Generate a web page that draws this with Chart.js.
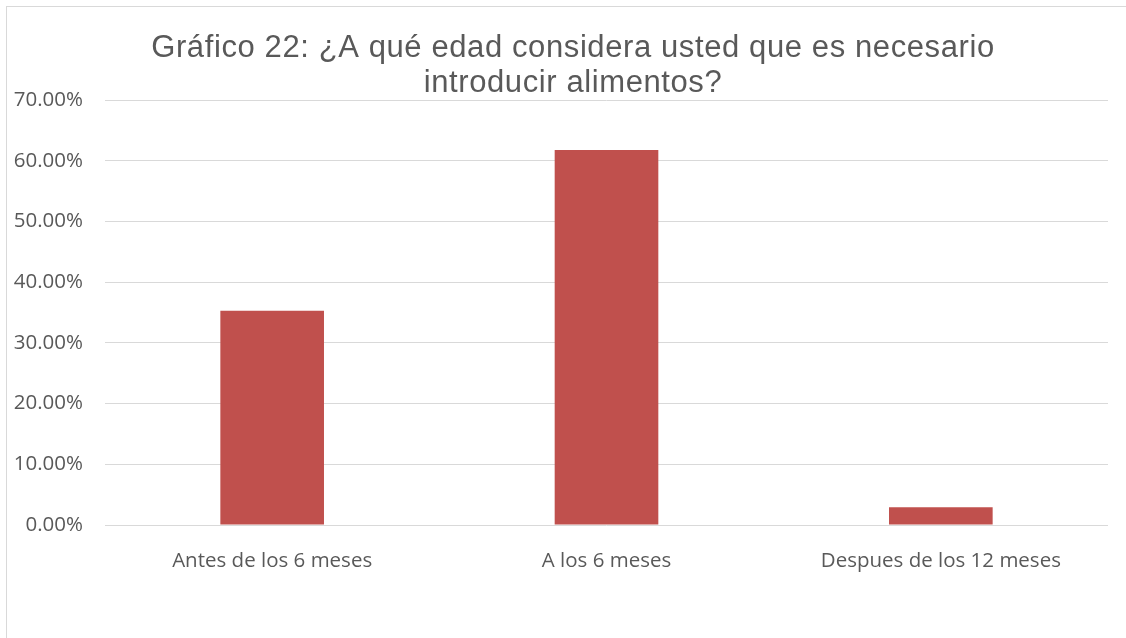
<!DOCTYPE html>
<html>
<head>
<meta charset="utf-8">
<script src="https://cdn.jsdelivr.net/npm/chart.js@4.4.1/dist/chart.umd.min.js"></script>
<style>
  html, body { margin: 0; padding: 0; background: #ffffff; overflow: hidden; }
  #frame { position: absolute; left: 6px; top: 6px; width: 1300px; height: 800px; border: 1px solid #d9d9d9; box-sizing: border-box; }
  #wrap { position: absolute; left: 0; top: 0; width: 1126px; height: 638px; }
</style>
</head>
<body>
<div id="frame"></div>
<div id="wrap"><canvas id="chart" width="1126" height="638"></canvas></div>
<script>
// Survey answers: share of respondents per age option
const categories = ['Antes de los 6 meses', 'A los 6 meses', 'Despues de los 12 meses'];
const shares = [0.3529, 0.6176, 0.0294];
const titleLines = ['Gráfico 22: ¿A qué edad considera usted que es necesario', 'introducir alimentos?'];
const yMax = 0.7;
const yStep = 0.1;

// Two-line chart title drawn over the top of the plot
const titlePlugin = {
  id: 'twoLineTitle',
  afterDraw(chart) {
    const ctx = chart.ctx;
    ctx.save();
    ctx.font = '31px "Liberation Sans", Arial, sans-serif';
    ctx.letterSpacing = '0.6px';
    ctx.fillStyle = '#595959';
    ctx.textAlign = 'center';
    ctx.textBaseline = 'alphabetic';
    const cx = 573;
    ctx.fillText(titleLines[0], cx, 57);
    ctx.fillText(titleLines[1], cx, 92);
    ctx.restore();
  }
};

const tickFont = { family: '"Open Sans", "Noto Sans", sans-serif', size: 20.5 };

new Chart(document.getElementById('chart'), {
  type: 'bar',
  data: {
    labels: categories,
    datasets: [{
      data: shares,
      backgroundColor: '#c0504d',
      borderWidth: 0,
      categoryPercentage: 1.0,
      barPercentage: 0.31
    }]
  },
  options: {
    responsive: false,
    animation: false,
    devicePixelRatio: 1,
    layout: { padding: { left: 0, right: 18, top: 100, bottom: 0 } },
    plugins: {
      legend: { display: false },
      title: { display: false },
      tooltip: { enabled: false }
    },
    scales: {
      x: {
        grid: { display: false },
        border: { display: false },
        ticks: {
          color: '#595959',
          font: tickFont,
          padding: 16
        },
        afterFit(scale) { scale.height = 113; }
      },
      y: {
        min: 0,
        max: yMax,
        grid: { color: '#d9d9d9', lineWidth: 1, drawTicks: false },
        border: { display: false },
        ticks: {
          stepSize: yStep,
          color: '#595959',
          font: tickFont,
          padding: 22,
          callback: (v) => (v * 100).toFixed(2) + '%'
        },
        afterFit(scale) { scale.width = 105; }
      }
    }
  },
  plugins: [titlePlugin]
});
</script>
</body>
</html>
